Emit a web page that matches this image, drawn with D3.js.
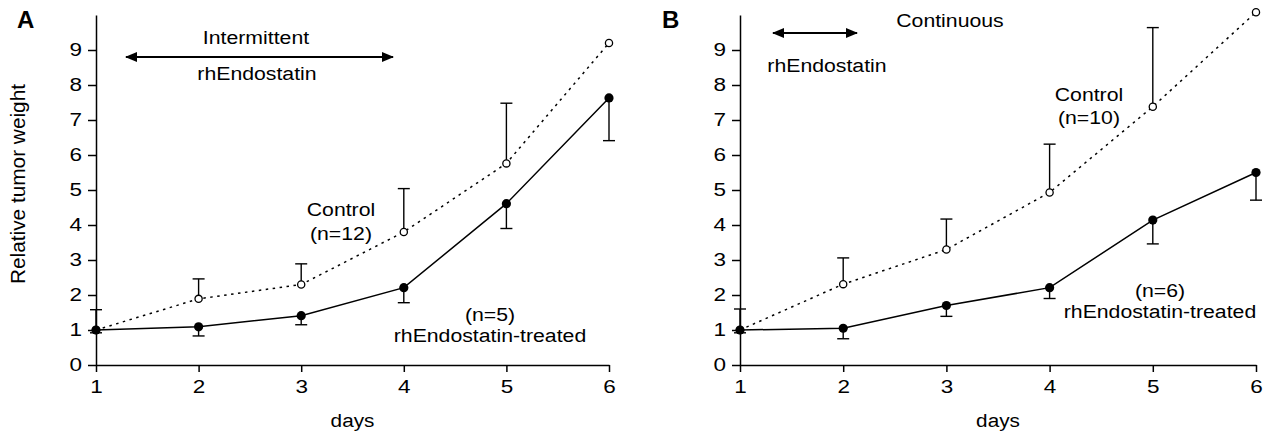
<!DOCTYPE html>
<html>
<head>
<meta charset="utf-8">
<script src="https://cdn.jsdelivr.net/npm/d3@7"></script>
<style>
body { margin: 0; background: #fff; }
svg text { font-family: Arial, "Liberation Sans", sans-serif; fill: #000; }
</style>
</head>
<body>
<svg id="chart" width="1267" height="435"></svg>
<script>
// data
var days = [1, 2, 3, 4, 5, 6];
var yTicks = [0, 1, 2, 3, 4, 5, 6, 7, 8, 9];

// panel A - intermittent
var ctrlA = [1.0, 1.89, 2.3, 3.8, 5.76, 9.2];
var ctrlErrA = [1.58, 2.46, 2.89, 5.04, 7.48, null];
var treatA = [1.0, 1.09, 1.41, 2.21, 4.61, 7.63];
var treatErrA = [0.92, 0.83, 1.15, 1.78, 3.9, 6.41];

// panel B - continuous
var ctrlB = [1.0, 2.31, 3.3, 4.93, 7.38, 10.08];
var ctrlErrB = [1.6, 3.06, 4.17, 6.31, 9.64, null];
var treatB = [1.0, 1.05, 1.7, 2.21, 4.14, 5.5];
var treatErrB = [0.92, 0.75, 1.39, 1.9, 3.46, 4.71];

var svg = d3.select("#chart");

// the original lettering is a bit wider than Arial, stretch it sideways
function widen(sel, k){
	sel.each(function(){
		var w = this.getComputedTextLength();
		d3.select(this).attr("textLength", w * k).attr("lengthAdjust", "spacingAndGlyphs");
	});
}

svg.append("defs").append("marker")
	.attr("id", "head")
	.attr("viewBox", "0 0 12 10")
	.attr("refX", 11)
	.attr("refY", 5)
	.attr("markerWidth", 12)
	.attr("markerHeight", 10)
	.attr("markerUnits", "userSpaceOnUse")
	.attr("orient", "auto-start-reverse")
	.append("path")
	.attr("d", "M0,0 L12,5 L0,10 Z")
	.attr("fill", "#000");

function panel(opt){
	var x = d3.scaleLinear().domain([1, 6]).range([opt.x0, opt.x1]);
	var y = d3.scaleLinear().domain([0, 10]).range([365, 15]);
	var g = svg.append("g");

	// axes
	g.append("g")
		.attr("transform", "translate(0,365)")
		.call(d3.axisBottom(x).tickValues(days).tickFormat(d3.format("d")).tickSize(7).tickPadding(8).tickSizeOuter(0))
		.call(function(a){
			a.select(".domain").attr("stroke-width", 1.5);
			a.selectAll(".tick line").attr("stroke-width", 1.5);
			a.selectAll("text").style("font-size", "18px").attr("fill", "#000").call(widen, 1.25);
		});
	g.append("g")
		.attr("transform", "translate(" + opt.x0 + ",0)")
		.call(d3.axisLeft(y).tickValues(yTicks).tickSize(8).tickPadding(6).tickSizeOuter(0))
		.call(function(a){
			a.select(".domain").attr("stroke-width", 1.5);
			a.selectAll(".tick line").attr("stroke-width", 1.5);
			a.selectAll("text").style("font-size", "18px").attr("fill", "#000").call(widen, 1.25);
		});

	var line = d3.line().x(function(d, i){ return x(days[i]); }).y(function(d){ return y(d); });

	// error bars
	function errs(vals, ends){
		var eg = g.append("g").attr("stroke", "#000").attr("stroke-width", 1.4);
		days.forEach(function(d, i){
			if(ends[i] == null) return;
			eg.append("line").attr("x1", x(d)).attr("x2", x(d)).attr("y1", y(vals[i])).attr("y2", y(ends[i]));
			eg.append("line").attr("x1", x(d) - 6).attr("x2", x(d) + 6).attr("y1", y(ends[i])).attr("y2", y(ends[i]));
		});
	}
	errs(opt.ctrl, opt.ctrlErr);
	errs(opt.treat, opt.treatErr);

	g.append("path").datum(opt.ctrl)
		.attr("d", line).attr("fill", "none").attr("stroke", "#000")
		.attr("stroke-width", 1.5).attr("stroke-dasharray", "2.5,4.5");
	g.append("path").datum(opt.treat)
		.attr("d", line).attr("fill", "none").attr("stroke", "#000").attr("stroke-width", 1.5);

	g.selectAll(".open").data(opt.ctrl).enter().append("circle")
		.attr("cx", function(d, i){ return x(days[i]); })
		.attr("cy", function(d){ return y(d); })
		.attr("r", 3.6).attr("fill", "#fff").attr("stroke", "#000").attr("stroke-width", 1.3);
	g.selectAll(".filled").data(opt.treat).enter().append("circle")
		.attr("cx", function(d, i){ return x(days[i]); })
		.attr("cy", function(d){ return y(d); })
		.attr("r", 4.6).attr("fill", "#000");

	// labels
	g.append("text").attr("x", opt.letterX).attr("y", 28).text(opt.letter)
		.style("font-size", "24px").style("font-weight", "bold");
	g.append("text").attr("x", (opt.x0 + opt.x1) / 2).attr("y", 427)
		.attr("text-anchor", "middle").style("font-size", "18px").text("days")
		.call(widen, 1.15);

	g.append("line")
		.attr("x1", opt.arrow[0]).attr("x2", opt.arrow[1])
		.attr("y1", opt.arrow[2]).attr("y2", opt.arrow[2])
		.attr("stroke", "#000").attr("stroke-width", 2)
		.attr("marker-start", "url(#head)").attr("marker-end", "url(#head)");

	opt.notes.forEach(function(n){
		g.append("text").attr("x", n[0]).attr("y", n[1])
			.attr("text-anchor", "middle").style("font-size", "18px").text(n[2])
			.call(widen, 1.18);
	});
}

panel({
	x0: 96, x1: 609, letter: "A", letterX: 17,
	ctrl: ctrlA, ctrlErr: ctrlErrA, treat: treatA, treatErr: treatErrA,
	arrow: [126, 393, 57],
	notes: [
		[256, 44, "Intermittent"],
		[257, 80, "rhEndostatin"],
		[341, 216, "Control"],
		[341, 240, "(n=12)"],
		[490, 321, "(n=5)"],
		[490, 342, "rhEndostatin-treated"]
	]
});

panel({
	x0: 740, x1: 1256, letter: "B", letterX: 662,
	ctrl: ctrlB, ctrlErr: ctrlErrB, treat: treatB, treatErr: treatErrB,
	arrow: [773, 857, 33],
	notes: [
		[950, 27, "Continuous"],
		[827, 72, "rhEndostatin"],
		[1089, 101, "Control"],
		[1089, 124, "(n=10)"],
		[1160, 297, "(n=6)"],
		[1160, 318, "rhEndostatin-treated"]
	]
});

svg.append("text")
	.attr("transform", "translate(25,184) rotate(-90)")
	.attr("text-anchor", "middle")
	.style("font-size", "20px")
	.attr("textLength", 200)
	.attr("lengthAdjust", "spacingAndGlyphs")
	.text("Relative tumor weight");
</script>
</body>
</html>
